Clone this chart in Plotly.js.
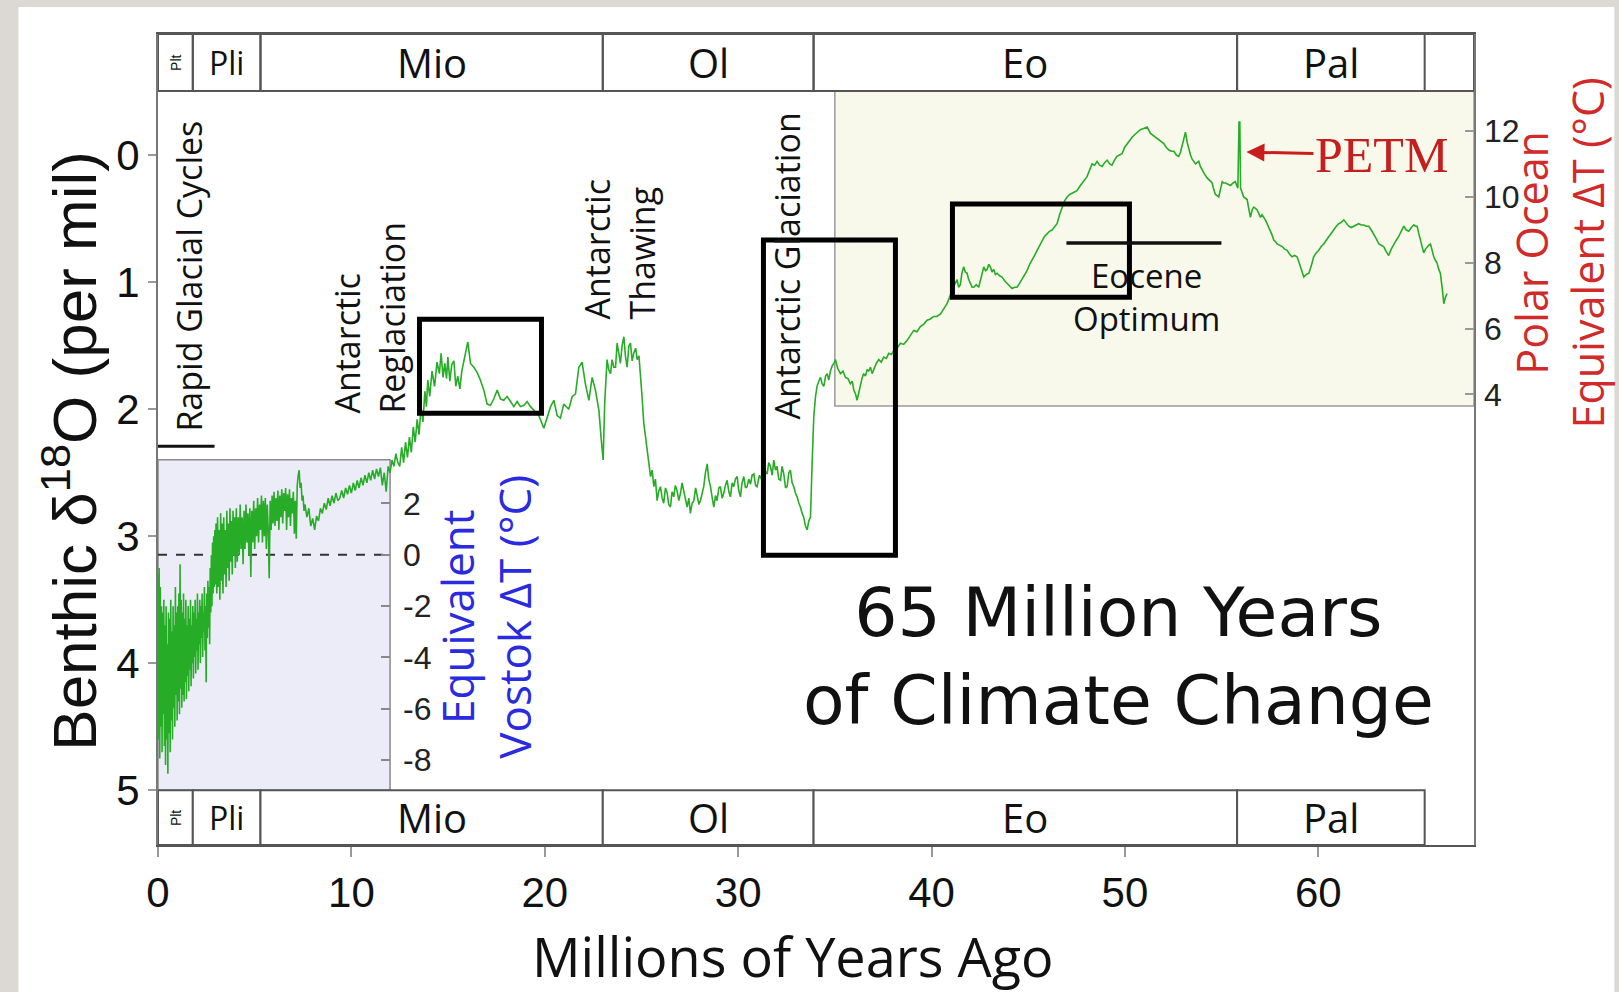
<!DOCTYPE html>
<html><head><meta charset="utf-8">
<script src="https://cdn.plot.ly/plotly-3.0.1.min.js"></script>
<style>html,body{margin:0;padding:0;background:#dcd9d4;} #chart{width:1619px;height:992px;}</style>
</head><body><div id="chart"></div>
<script>
// ---------- DATA ----------
// Age in millions of years ago (Ma) and benthic d18O (per mil), by segment
const ageSeg1 = [
 0.00,0.03,0.06,0.09,0.12,0.15,0.18,0.21,0.24,0.27,
 0.30,0.33,0.36,0.39,0.42,0.45,0.48,0.51,0.54,0.57,
 0.60,0.63,0.66,0.69,0.72,0.75,0.78,0.81,0.84,0.87,
 0.90,0.93,0.96,0.99,1.02,1.05,1.08,1.11,1.14,1.17,
 1.20,1.23,1.26,1.29,1.32,1.35,1.38,1.41,1.44,1.47,
 1.50,1.53,1.56,1.59,1.62,1.65,1.68,1.71,1.74,1.77,
 1.80,1.83,1.86,1.89,1.92,1.95,1.98,2.01,2.04,2.07,
 2.10,2.13,2.16,2.19,2.22,2.25,2.28,2.31,2.34,2.37,
 2.40,2.43,2.46,2.49,2.52,2.55,2.58,2.61,2.64,2.67,
 2.70,2.73,2.76,2.79,2.82,2.85,2.88,2.91,2.94,2.97];
const d18OSeg1 = [
 3.30,4.60,3.25,4.75,3.40,4.50,3.55,4.70,3.60,4.40,
 3.50,4.65,3.70,4.80,3.55,4.60,3.85,4.87,3.60,4.55,
 3.65,4.70,3.50,4.45,3.75,4.60,3.55,4.35,3.70,4.50,
 3.40,4.25,3.60,4.45,3.55,4.30,3.45,4.40,3.22,4.20,
 3.50,4.35,3.60,4.25,3.45,4.30,3.65,4.15,3.50,4.28,
 3.70,4.10,3.55,4.22,3.65,4.05,3.50,4.18,3.70,4.00,
 3.55,4.12,3.60,3.95,3.50,4.08,3.65,3.90,3.45,4.05,
 3.60,3.85,3.50,4.00,3.55,3.80,3.45,3.95,3.60,3.75,
 3.40,3.90,3.55,4.15,3.45,3.80,3.35,3.72,3.40,3.85,
 3.25,3.60,3.15,3.55,3.05,3.45,3.00,3.40,2.95,3.38];

const ageSeg2 = [
 3.00,3.04,3.08,3.12,3.16,3.20,3.24,3.28,3.32,3.36,3.40,3.44,3.48,3.52,3.56,3.60,3.64,3.68,3.72,3.76,3.80,3.84,3.88,3.92,3.96,4.00,
 4.05,4.10,4.15,4.20,4.25,4.30,4.35,4.40,4.45,4.50,4.55,4.60,4.65,4.70,4.75,4.80,4.85,4.90,4.95,5.00,
 5.05,5.10,5.15,5.20,5.25,5.30,5.35,5.40,5.45,5.50,5.55,5.60,5.65,5.70,5.75,5.80,5.85,5.90,5.95,6.00,
 6.05,6.10,6.15,6.20,6.25,6.30,6.35,6.40,6.45,6.50,6.55,6.60,6.65,6.70,6.75,6.80,6.85,6.90,6.95,7.00,
 7.05,7.10,7.15,7.20,7.25,7.30,7.35,7.40,7.45,7.50,7.55,7.60,
 7.70,7.80,7.90,8.00,8.10,8.20,8.30,8.40,8.50,8.60,8.70,8.80,8.90,9.00,9.10,9.20,9.30,9.40,9.50,9.60,
 9.70,9.80,9.90,10.0,10.1,10.2,10.3,10.4,10.5,10.6,10.7,10.8,10.9,11.0,11.1,11.2,11.3,11.4,11.5,11.6,
 11.7,11.8,11.9,12.0,12.1,12.2,12.3,12.4];
const d18OSeg2 = [
 2.90,3.45,2.85,3.40,2.95,3.50,2.82,3.35,2.90,3.45,2.85,3.30,2.95,3.40,2.80,3.25,2.90,3.35,2.78,3.20,2.88,3.30,2.80,3.15,2.85,3.25,
 2.78,3.20,2.85,3.15,2.75,3.10,2.85,3.22,2.80,3.10,2.75,3.05,2.82,3.15,2.78,3.32,2.80,3.05,2.72,3.10,
 2.78,3.00,2.70,3.05,2.75,2.95,2.68,3.05,2.72,3.00,2.70,3.10,2.75,2.95,3.33,2.72,2.95,2.68,2.90,2.65,
 2.92,2.70,2.88,2.64,2.95,2.68,2.85,2.63,2.90,2.66,2.80,2.62,2.95,2.67,2.85,2.63,2.92,2.70,2.82,2.65,
 2.98,2.72,3.02,2.60,2.52,2.48,2.62,2.58,2.72,2.68,2.80,2.75,
 2.85,2.78,2.92,2.86,2.95,2.84,2.88,2.78,2.82,2.74,2.79,2.70,2.76,2.68,2.74,2.66,2.72,2.70,2.64,2.70,
 2.62,2.67,2.60,2.66,2.58,2.64,2.56,2.62,2.54,2.60,2.52,2.58,2.50,2.56,2.48,2.55,2.47,2.53,2.46,2.60,
 2.50,2.65,2.45,2.50,2.40,2.45,2.35,2.42];

const ageSeg3 = [
 12.50,12.60,12.70,12.80,12.90,13.00,13.10,13.20,13.30,13.40,13.50,13.60,13.70,13.80,
 13.88,13.95,14.05,14.17,14.30,14.43,14.55,14.64,14.74,14.83,14.92,14.99,
 15.09,15.19,15.30,15.40,15.50,15.61,15.71,15.81,15.92,
 16.02,16.16,16.33,16.50,16.67,16.85,17.02,17.19,17.36,17.54,17.71,17.88,
 18.05,18.23,18.40,18.57,18.74,18.92,19.09,19.26,19.43,19.69,19.95,
 20.12,20.30,20.47,20.64,20.81,20.98,21.24,21.42,21.59,21.76,21.93,
 22.10,22.28,22.45,22.62,22.80,22.92,23.02];
const d18OSeg3 = [
 2.45,2.30,2.42,2.26,2.38,2.22,2.34,2.14,2.26,2.08,2.20,1.98,2.10,1.86,
 1.98,1.77,1.90,1.70,1.82,1.63,1.72,1.56,1.75,1.64,1.76,1.59,
 1.78,1.65,1.62,1.82,1.74,1.84,1.70,1.62,1.55,
 1.47,1.64,1.67,1.71,1.77,1.85,1.96,1.97,1.92,1.85,1.92,1.93,
 1.90,1.94,1.98,1.94,1.98,1.97,1.94,1.98,2.01,2.05,2.15,
 2.06,1.98,1.93,2.05,2.07,1.96,2.00,1.90,1.88,1.67,1.63,
 1.80,1.93,1.75,1.85,2.01,2.24,2.40];

const ageSeg4 = [
 23.10,23.22,23.31,23.40,23.48,23.57,23.66,23.74,23.83,23.91,
 24.00,24.09,24.17,24.26,24.35,24.43,24.52,24.60,24.70,24.78,
 24.87,24.95,25.03,25.12,25.20,25.29,25.38,25.47,25.55,25.64,
 25.72,25.81,25.90,25.98,26.07,26.15,26.24,26.33,26.41,26.50,
 26.58,26.67,26.75,26.84,26.93,27.02,27.10,27.19,27.28,27.36,
 27.45,27.53,27.62,27.71,27.80,27.88,27.97,28.05,28.14,28.22,
 28.31,28.40,28.48,28.57,28.66,28.74,28.83,28.91,29.00,29.08,
 29.17,29.26,29.34,29.43,29.52,29.60,29.69,29.77,29.86,29.95,
 30.03,30.12,30.20,30.29,30.38,30.46,30.55,30.64,30.72,30.81,
 30.90,30.98,31.10,31.24,31.37,31.50,31.58,31.67,31.76,31.84,
 31.93,32.01,32.10,32.19,32.27,32.36,32.45,32.53,32.62,32.70,
 32.79,32.88,32.96,33.05,33.14,33.22,33.31,33.39,33.48,33.57,
 33.65,33.74,33.82,33.91,34.00,34.08,34.17,34.26,34.34,34.43,
 34.52,34.60,34.69,34.77,34.86,34.95,35.03];
const d18OSeg4 = [
 1.95,1.61,1.69,1.72,1.61,1.67,1.67,1.48,1.56,1.64,
 1.50,1.43,1.58,1.67,1.50,1.48,1.62,1.56,1.52,1.61,
 1.58,1.72,1.90,2.11,2.20,2.32,2.40,2.53,2.48,2.61,
 2.55,2.72,2.64,2.61,2.70,2.74,2.62,2.66,2.75,2.77,
 2.65,2.69,2.60,2.64,2.72,2.66,2.58,2.64,2.70,2.77,
 2.70,2.82,2.74,2.72,2.62,2.69,2.75,2.72,2.65,2.61,
 2.50,2.43,2.55,2.61,2.70,2.77,2.68,2.72,2.62,2.61,
 2.70,2.66,2.60,2.56,2.65,2.69,2.58,2.61,2.55,2.53,
 2.64,2.69,2.58,2.53,2.62,2.61,2.55,2.59,2.52,2.51,
 2.60,2.61,2.52,2.56,2.48,2.51,2.42,2.45,2.52,2.40,
 2.48,2.45,2.55,2.56,2.45,2.51,2.62,2.61,2.50,2.48,
 2.58,2.61,2.66,2.69,2.74,2.77,2.82,2.85,2.92,2.95,
 2.88,2.85,2.45,2.06,1.90,1.82,1.78,1.75,1.80,1.82,
 1.74,1.72,1.77,1.70,1.66,1.64,1.61];

const ageSeg5 = [
 35.15,35.29,35.42,35.55,35.68,35.80,35.90,35.98,36.07,36.15,
 36.24,36.32,36.40,36.49,36.58,36.67,36.75,36.84,36.93,37.01,
 37.14,37.27,37.40,37.53,37.66,37.79,37.92,38.04,38.22,38.39,
 38.56,38.73,38.90,39.08,39.25,39.42,39.60,39.77,39.94,40.11,
 40.28,40.46,40.63,40.80,40.93,41.06,41.19,41.32,41.40,41.49,
 41.57,41.66,41.75,41.84,41.92,42.01,42.10,42.18,42.31,42.44,
 42.57,42.70,42.79,42.87,42.96,43.04,43.13,43.22,43.30,43.39,
 43.52,43.65,43.78,43.90,44.03,44.16,44.29,44.42,44.55,44.68,
 44.81,44.94,45.07,45.20,45.33,45.46,45.59,45.71,45.84,45.97,
 46.10,46.23,46.36,46.49,46.62,46.75,46.88,47.01,47.14,47.27,
 47.40,47.52,47.65,47.78,47.91,48.04,48.17,48.30,48.43,48.56,
 48.69,48.82,48.95,49.08,49.21,49.33,49.46,49.59,49.72,49.85,
 49.98,50.11,50.24,50.37,50.50];
const d18OSeg5 = [
 1.68,1.72,1.70,1.75,1.76,1.80,1.78,1.85,1.88,1.93,
 1.86,1.82,1.76,1.72,1.74,1.69,1.70,1.67,1.72,1.69,
 1.64,1.61,1.63,1.59,1.60,1.56,1.57,1.54,1.52,1.48,
 1.49,1.46,1.42,1.38,1.39,1.35,1.33,1.30,1.29,1.27,
 1.27,1.25,1.21,1.17,1.12,1.06,1.02,0.98,1.04,1.02,
 0.93,0.88,0.92,0.93,0.98,1.01,1.04,1.04,1.02,1.04,
 0.96,0.88,0.91,0.90,0.86,0.88,0.92,0.90,0.94,0.93,
 0.95,0.96,0.99,1.01,1.03,1.05,1.04,1.04,1.01,0.98,
 0.94,0.91,0.86,0.83,0.79,0.75,0.71,0.67,0.64,0.62,
 0.60,0.59,0.56,0.54,0.47,0.41,0.36,0.33,0.31,0.30,
 0.29,0.28,0.25,0.22,0.20,0.17,0.12,0.07,0.08,0.05,
 0.08,0.09,0.06,0.04,0.07,0.08,0.04,0.01,0.00,-0.01,
 -0.06,-0.09,-0.12,-0.14,-0.16];

const ageSeg6 = [
 50.63,50.80,50.97,51.15,51.32,51.49,51.66,51.84,52.01,52.14,
 52.27,52.40,52.53,52.66,52.78,52.87,52.96,53.05,53.13,53.22,
 53.30,53.39,53.47,53.56,53.65,53.73,53.82,53.90,53.99,54.12,
 54.25,54.38,54.51,54.59,54.68,54.77,54.85,54.94,55.03,55.11,
 55.20,55.33,55.46,55.59,55.71,55.78,55.84,55.90,55.94,55.98,
 56.06,56.14,56.23,56.32,56.40,56.49,56.58,56.66,56.75,56.83,
 56.92,57.01,57.09,57.18,57.26,57.35,57.44,57.52,57.61,57.70,
 57.78,57.87,58.00,58.13,58.26,58.39,58.52,58.64,58.77,58.90,
 58.99,59.08,59.16,59.25,59.38,59.51,59.64,59.76,59.89,60.02,
 60.15,60.28,60.41,60.54,60.67,60.80,60.93,61.06,61.19,61.32,
 61.45,61.57,61.70,61.83,61.96,62.09,62.22,62.35,62.48,62.61,
 62.74,62.87,63.00,63.13,63.26,63.38,63.51,63.64,63.77,63.90,
 64.03,64.16,64.29,64.42,64.55,64.68,64.81,64.94,65.02,65.11,
 65.20,65.28,65.37,65.45,65.54,65.63,65.71,65.80,65.89,65.97,
 66.06,66.14,66.23,66.31,66.40,66.49,66.57,66.66];
const d18OSeg6 = [
 -0.18,-0.20,-0.21,-0.22,-0.17,-0.15,-0.13,-0.11,-0.09,-0.06,
 -0.04,-0.03,-0.03,0.00,0.01,-0.02,-0.07,-0.13,-0.18,-0.10,
 -0.04,0.00,0.03,0.05,0.07,0.06,0.05,0.09,0.12,0.15,
 0.18,0.20,0.22,0.27,0.31,0.32,0.33,0.27,0.21,0.22,
 0.22,0.23,0.24,0.22,0.21,0.24,0.26,-0.26,-0.26,0.26,
 0.30,0.33,0.34,0.35,0.42,0.49,0.43,0.41,0.42,0.43,
 0.46,0.49,0.47,0.49,0.51,0.54,0.57,0.59,0.63,0.67,
 0.68,0.70,0.71,0.72,0.74,0.75,0.78,0.80,0.79,0.80,
 0.84,0.88,0.92,0.96,0.94,0.93,0.87,0.80,0.77,0.75,
 0.72,0.70,0.67,0.64,0.61,0.59,0.56,0.54,0.53,0.51,
 0.54,0.56,0.57,0.56,0.55,0.54,0.55,0.55,0.56,0.56,
 0.59,0.62,0.66,0.70,0.71,0.72,0.76,0.79,0.74,0.70,
 0.67,0.64,0.60,0.56,0.59,0.60,0.57,0.55,0.56,0.56,
 0.62,0.67,0.73,0.77,0.74,0.72,0.71,0.70,0.76,0.80,
 0.83,0.85,0.90,0.93,1.04,1.17,1.12,1.09];

// Geologic epochs (Ma)
const epochNames   = ['Plt','Pli','Mio','Ol','Eo','Pal'];
const epochStartMa = [0, 1.8, 5.3, 23.0, 33.9, 55.8];
const epochEndMa   = [1.8, 5.3, 23.0, 33.9, 55.8, 65.5];

// Tick values
const ageTicks    = [0,10,20,30,40,50,60];
const d18OTicks   = [0,1,2,3,4,5];
const vostokTicks = [2,0,-2,-4,-6,-8];
const polarTicks  = [12,10,8,6,4];

// ---------- LAYOUT GEOMETRY ----------
const W=1619, H=992;
const ML=157.5, MR=145.4, MT=34, MB=147.4;
const X0PX=157.5, XPU=19.34, Y0PX=155, YPU=127;
const xMax=(W-ML-MR)/XPU;
const yTop=(MT-Y0PX)/YPU, yBot=(H-MB-Y0PX)/YPU;
const dx = px => (px-X0PX)/XPU;
const dy = py => (py-Y0PX)/YPU;
const PW=W-ML-MR, PH=H-MT-MB;
const pX = px => (px-ML)/PW;
const pY = py => (H-MB-py)/PH;

// secondary scales
const vZeroPx=554.5, vPxPerDeg=25.65;
const vRange=[(vZeroPx-(H-MB))/vPxPerDeg, (vZeroPx-MT)/vPxPerDeg];
const pRefPx=131, pPxPerDeg=32.9;
const pRange=[12+(pRefPx-(H-MB))/pPxPerDeg, 12+(pRefPx-MT)/pPxPerDeg];
const vostokZeroD18O = dy(vZeroPx);

const barTopY0=yTop, barTopY1=dy(91);
const barBotY0=5.0, barBotY1=yBot;

const ages = [].concat(ageSeg1, ageSeg2, ageSeg3, ageSeg4, ageSeg5, ageSeg6);
const d18O = [].concat(d18OSeg1, d18OSeg2, d18OSeg3, d18OSeg4, d18OSeg5, d18OSeg6);

const traces = [
  {x: ages, y: d18O, type:'scatter', mode:'lines', line:{color:'rgb(38,172,38)', width:1.6}, hoverinfo:'skip', showlegend:false},
  {x: [], y: [], yaxis:'y2', type:'scatter', mode:'lines', hoverinfo:'skip', showlegend:false},
  {x: [], y: [], yaxis:'y3', type:'scatter', mode:'lines', hoverinfo:'skip', showlegend:false}
];

const shapes = [];
// white card
shapes.push({type:'rect', xref:'paper', yref:'paper', x0:pX(18), x1:pX(1614), y0:pY(992), y1:pY(7), fillcolor:'#ffffff', line:{width:0}, layer:'below'});
// Vostok shaded panel
shapes.push({type:'rect', xref:'x', yref:'y', x0:0, x1:12, y0:dy(459.5), y1:5.0, fillcolor:'#ececf8', line:{color:'#8a8a8a', width:1.5}, layer:'below'});
// Polar ocean shaded panel
shapes.push({type:'rect', xref:'x', yref:'y', x0:35, x1:xMax, y0:barTopY1, y1:dy(405.8), fillcolor:'#f9f9eb', line:{color:'#9a9a9a', width:1.5}, layer:'below'});
// dashed Vostok zero line
shapes.push({type:'line', xref:'x', yref:'y', x0:0, x1:12, y0:vostokZeroD18O, y1:vostokZeroD18O, line:{color:'#333', width:2, dash:'dash'}, layer:'below'});
// epoch bars
shapes.push({type:'rect', xref:'x', yref:'y', x0:0, x1:xMax, y0:barTopY0, y1:barTopY1, fillcolor:'#fff', line:{color:'#555', width:2}, layer:'below'});
for (let i=0;i<epochNames.length;i++){
  shapes.push({type:'rect', xref:'x', yref:'y', x0:epochStartMa[i], x1:epochEndMa[i], y0:barTopY0, y1:barTopY1, fillcolor:'rgba(0,0,0,0)', line:{color:'#555', width:2}, layer:'below'});
  shapes.push({type:'rect', xref:'x', yref:'y', x0:epochStartMa[i], x1:epochEndMa[i], y0:barBotY0, y1:barBotY1, fillcolor:'#fff', line:{color:'#555', width:2}, layer:'below'});
}
// highlight boxes
const boxLine = {color:'#000', width:5};
shapes.push({type:'rect', xref:'x', yref:'y', x0:dx(419), x1:dx(541), y0:dy(319), y1:dy(413), line:boxLine, layer:'above'});
shapes.push({type:'rect', xref:'x', yref:'y', x0:dx(763), x1:dx(895), y0:dy(240), y1:dy(555), line:boxLine, layer:'above'});
shapes.push({type:'rect', xref:'x', yref:'y', x0:dx(952), x1:dx(1129), y0:dy(204), y1:dy(297), line:boxLine, layer:'above'});
// Eocene optimum bar and rapid glacial cycles bar
shapes.push({type:'line', xref:'x', yref:'y', x0:dx(1066), x1:dx(1221), y0:dy(243), y1:dy(243), line:{color:'#111', width:3.5}});
shapes.push({type:'line', xref:'x', yref:'y', x0:0, x1:dx(214), y0:dy(446), y1:dy(446), line:{color:'#111', width:3}});

const annotations = [];
const sans = 'Open Sans, Noto Sans, sans-serif';
const arial = 'Liberation Sans, Arial, sans-serif';
// annotation positioned in full-image pixel coordinates (paper-referenced so it is never hidden)
function ann(pxX, pxY, o){
  annotations.push(Object.assign({xref:'paper', yref:'paper', x:pX(pxX), y:pY(pxY), showarrow:false, xanchor:'center', yanchor:'middle'}, o));
}
// epoch labels
for (let i=0;i<epochNames.length;i++){
  const xc=(epochStartMa[i]+epochEndMa[i])/2;
  const isPlt = epochNames[i]==='Plt';
  const sz = isPlt ? 14 : (epochNames[i]==='Pli' ? 32 : 40);
  const f = {family: isPlt ? arial : sans, size: sz, color:'#111'};
  annotations.push({xref:'x', yref:'y', x:xc, y:(barTopY0+barTopY1)/2, text:epochNames[i], font:f, textangle: isPlt ? -90 : 0, showarrow:false, xanchor:'center', yanchor:'middle'});
  annotations.push({xref:'x', yref:'y', x:xc, y:(barBotY0+barBotY1)/2, text:epochNames[i], font:f, textangle: isPlt ? -90 : 0, showarrow:false, xanchor:'center', yanchor:'middle'});
}
// axis titles
ann(70, 451, {text:'Benthic δ<sup>18</sup>O (per mil)', textangle:-90, font:{family:arial, size:62, color:'#111'}});
ann(792, 956, {text:'Millions of Years Ago', font:{family:sans, size:54, color:'#111'}});
ann(485, 616, {text:'Equivalent<br>Vostok ΔT (°C)', textangle:-90, font:{family:sans, size:44, color:'#2a2ae0'}});
ann(1559, 253, {text:'Polar Ocean<br>Equivalent ΔT (°C)', textangle:-90, font:{family:sans, size:43, color:'#d02a2a'}});
// event labels
ann(189, 276, {text:'Rapid Glacial Cycles', textangle:-90, font:{family:sans, size:34, color:'#111'}});
ann(369, 317, {text:'Antarctic<br>Reglaciation', textangle:-90, align:'left', font:{family:sans, size:34, color:'#111'}});
ann(619, 249, {text:'Antarctic<br>Thawing', textangle:-90, align:'left', font:{family:sans, size:34, color:'#111'}});
ann(787, 266, {text:'Antarctic Glaciation', textangle:-90, font:{family:sans, size:34, color:'#111'}});
ann(1146, 297, {text:'Eocene<br>Optimum', align:'center', font:{family:sans, size:33, color:'#111'}});
ann(1118, 656, {text:'65 Million Years<br>of Climate Change', align:'center', font:{family:'DejaVu Sans, Open Sans, sans-serif', size:68, color:'#111'}});
// PETM arrow
annotations.push({xref:'x', yref:'y', x:dx(1246), y:dy(152), text:'PETM', showarrow:true, ax:135, ay:3,
  arrowhead:2, arrowsize:1.2, arrowwidth:3, arrowcolor:'#c81e1e', standoff:0,
  font:{family:'Liberation Serif, Times New Roman, serif', size:50, color:'#c41e1e'}, xanchor:'center', yanchor:'middle'});

const layout = {
  width:W, height:H, autosize:false,
  margin:{l:ML, r:MR, t:MT, b:MB, pad:0},
  paper_bgcolor:'#dcd9d4', plot_bgcolor:'rgba(0,0,0,0)',
  showlegend:false,
  xaxis:{range:[0,xMax], tickvals:ageTicks, ticks:'outside', ticklen:10, tickwidth:2, tickcolor:'#999',
    showline:true, linecolor:'#555', linewidth:2, mirror:true, showgrid:false, zeroline:false,
    tickfont:{family:arial, size:42, color:'#111'}, ticklabelstandoff:0},
  yaxis:{range:[yBot,yTop], tickvals:d18OTicks, ticks:'outside', ticklen:8, tickwidth:2, tickcolor:'#999',
    showline:true, linecolor:'#777', linewidth:2, mirror:true, showgrid:false, zeroline:false,
    tickfont:{family:arial, size:42, color:'#111'}, ticklabelstandoff:0},
  yaxis2:{overlaying:'y', anchor:'free', position:12/xMax, side:'right', range:vRange,
    tickvals:vostokTicks, ticktext:vostokTicks.map(v=>String(v)), ticks:'inside', ticklen:9, tickwidth:2, tickcolor:'#888',
    showline:false, showgrid:false, zeroline:false, tickfont:{family:arial, size:32, color:'#222'}, ticklabelstandoff:12},
  yaxis3:{overlaying:'y', anchor:'x', side:'right', range:pRange,
    tickvals:polarTicks, ticktext:polarTicks.map(v=>String(v)), ticks:'inside', ticklen:9, tickwidth:2, tickcolor:'#999',
    showline:false, showgrid:false, zeroline:false, tickfont:{family:arial, size:32, color:'#222'}, ticklabelstandoff:9},
  shapes: shapes,
  annotations: annotations
};

Plotly.newPlot('chart', traces, layout, {displayModeBar:false, staticPlot:true});
</script>
</body></html>
